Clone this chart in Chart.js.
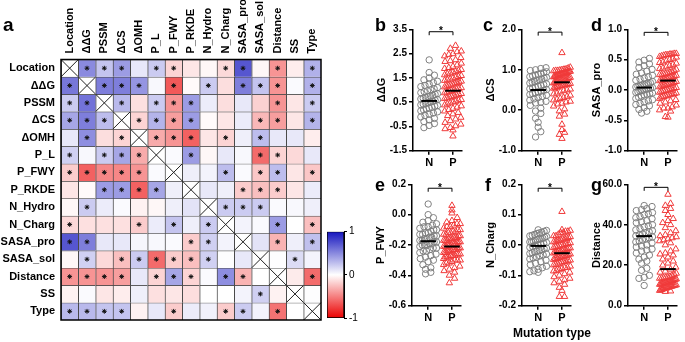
<!DOCTYPE html>
<html>
<head>
<meta charset="utf-8">
<script src="https://cdn.jsdelivr.net/npm/chart.js@4.4.1/dist/chart.umd.min.js"></script>
<style>
  html, body { margin: 0; padding: 0; background: #fff; }
  body { width: 685px; height: 342px; position: relative; overflow: hidden; font-family: "Liberation Sans", Arial, sans-serif; }
  canvas, .lbl { position: absolute; }
  .lbl { font-weight: bold; color: #000; line-height: 1; white-space: nowrap; }
</style>
</head>
<body>
<canvas id="heat" width="326" height="342" style="left:0;top:0"></canvas>
<canvas id="cbar" width="40" height="104" style="left:322px;top:222px"></canvas>
<canvas id="pb" width="96" height="171"></canvas>
<canvas id="pc" width="96" height="171"></canvas>
<canvas id="pd" width="96" height="171"></canvas>
<canvas id="pe" width="96" height="171"></canvas>
<canvas id="pf" width="96" height="171"></canvas>
<canvas id="pg" width="96" height="171"></canvas>

<div class="lbl" style="left:3px;top:15px;font-size:19px">a</div>
<div class="lbl" style="left:375px;top:16px;font-size:18px">b</div>
<div class="lbl" style="left:483px;top:16px;font-size:18px">c</div>
<div class="lbl" style="left:591px;top:16px;font-size:18px">d</div>
<div class="lbl" style="left:375px;top:176px;font-size:18px">e</div>
<div class="lbl" style="left:485px;top:176px;font-size:18px">f</div>
<div class="lbl" style="left:591px;top:176px;font-size:18px">g</div>
<div class="lbl" style="left:500px;top:327px;width:104px;text-align:center;font-size:12px">Mutation type</div>

<script>
// ---- panel a: correlation matrix ----
const features = ["Location", "ΔΔG", "PSSM", "ΔCS", "ΔOMH", "P_L", "P_FWY", "P_RKDE",
  "N_Hydro", "N_Charg", "SASA_pro", "SASA_sol", "Distance", "SS", "Type"];

const corr = [
  [1, 0.5, 0.25, 0.42, 0.1, 0.22, -0.17, -0.1, -0.03, -0.15, 0.72, -0.03, -0.42, -0.07, 0.33],
  [0.58, 1, 0.55, 0.55, 0.45, 0.03, -0.65, -0.02, 0.22, -0.13, 0.55, 0.25, -0.42, 0.02, 0.33],
  [0.22, 0.6, 1, 0.3, -0.12, 0.22, -0.42, 0.42, 0.08, -0.13, 0.1, -0.18, -0.42, -0.1, 0.22],
  [0.38, 0.55, 0.28, 1, -0.17, 0.32, -0.38, 0.42, -0.02, -0.1, 0.08, -0.28, -0.38, -0.1, 0.32],
  [0.1, 0.48, -0.13, -0.17, 1, -0.33, -0.42, -0.62, -0.1, -0.17, 0.07, 0.28, 0.1, 0.1, -0.07],
  [0.2, 0.03, 0.22, 0.38, -0.33, 1, 0.02, 0.42, -0.03, 0.1, 0.03, -0.58, -0.17, -0.15, 0.1],
  [-0.2, -0.62, -0.47, -0.47, -0.42, 0.02, 1, 0.07, 0.05, 0.28, 0.02, -0.22, 0.28, -0.1, -0.22],
  [-0.1, -0.02, 0.42, 0.42, -0.62, 0.38, 0.07, 1, 0.1, 0.07, -0.2, -0.25, -0.2, -0.1, 0.08],
  [-0.03, 0.22, 0.08, 0.02, -0.05, -0.03, 0.07, 0.12, 1, 0.22, 0.22, 0.22, 0.02, 0.03, 0.07],
  [-0.15, -0.12, -0.12, -0.12, -0.2, 0.08, 0.25, 0.07, 0.22, 1, 0.05, 0.02, 0.42, 0, -0.25],
  [0.72, 0.55, 0.1, 0.1, 0.04, 0.03, 0.02, -0.2, 0.2, 0.05, 1, 0.12, -0.3, 0.07, 0.27],
  [-0.03, 0.2, -0.15, -0.25, 0.22, -0.58, -0.2, -0.25, 0.2, 0.01, 0.1, 1, 0.01, 0.15, 0.05],
  [-0.42, -0.42, -0.42, -0.38, 0.1, -0.17, 0.38, -0.17, 0.02, 0.48, -0.3, 0, 1, -0.08, -0.58],
  [-0.05, 0.02, -0.1, -0.07, 0.07, -0.12, -0.1, -0.13, 0, 0, 0.05, 0.2, -0.05, 1, 0.01],
  [0.3, 0.3, 0.25, 0.25, -0.05, 0.1, -0.2, 0.08, 0.06, -0.2, 0.22, 0.05, -0.55, 0, 1],
];

// * = significant, x = diagonal
const signif = [
  "x***.**..**.*.*",
  "*x***.*.*.***.*",
  "**x*.***....*.*",
  "***x****...**.*",
  ".*.*x***.*.*...",
  "*.***x.*...**..",
  "*****.x..*.**.*",
  "..****.x..***..",
  ".*......x***...",
  "*...*.*.*x..*.*",
  "**.....**.x.*.*",
  ".*.******..x.*.",
  "****.***.**.x.*",
  "...........*.x.",
  "****..*..**.*.x",
];

const colorbarTicks = [-1, 0, 1];

// ---- panels b-g: N vs P mutations ----
const groups = ["N", "P"];
const panelTitles = ["ΔΔG", "ΔCS", "SASA_pro", "P_FWY", "N_Charg", "Distance"];
const yMin = [-1.5, -1, -1, -0.6, -0.2, 0];
const yMax = [3.5, 2, 1, 0.2, 0.2, 60];
const yStep = [1, 1, 0.5, 0.2, 0.1, 20];
const meanN = [0.55, 0.5, 0.04, -0.175, -0.003, 34.4];
const meanP = [0.97, 0.69, 0.155, -0.21, -0.027, 18.1];
const bracketY = [3.4, 1.93, 0.95, 0.174, 0.187, 58.5];

const ddgN = [2.24, 1.72, 1.61, 1.5, 1.42, 1.36, 1.3, 1.24, 1.19, 1.14,
  1.1, 1.05, 1.01, 0.97, 0.93, 0.89, 0.85, 0.82, 0.78, 0.75,
  0.72, 0.69, 0.66, 0.63, 0.6, 0.57, 0.54, 0.51, 0.48, 0.45,
  0.42, 0.39, 0.36, 0.33, 0.29, 0.26, 0.22, 0.18, 0.14, 0.1,
  0.05, 0.0, -0.05, -0.11, -0.17, -0.23, -0.3, -0.38, -0.46, -0.55];
const ddgP = [2.83, 2.71, 2.6, 2.57, 2.49, 2.4, 2.33, 2.24, 2.17, 2.1,
  2.03, 1.97, 1.92, 1.88, 1.84, 1.8, 1.76, 1.73, 1.69, 1.66,
  1.62, 1.59, 1.55, 1.52, 1.49, 1.45, 1.42, 1.39, 1.36, 1.33,
  1.3, 1.27, 1.24, 1.21, 1.18, 1.15, 1.12, 1.09, 1.06, 1.03,
  1.0, 0.97, 0.94, 0.91, 0.88, 0.85, 0.82, 0.79, 0.76, 0.73,
  0.7, 0.67, 0.64, 0.6, 0.57, 0.53, 0.5, 0.46, 0.42, 0.38,
  0.34, 0.29, 0.24, 0.19, 0.13, 0.07, 0.01, -0.06, -0.13, -0.2,
  -0.27, -0.34, -0.41, -0.48, -0.55, -0.6, -0.65, 2.46, 2.2, -0.9];

const dcsN = [1.05, 1.03, 1.0, 0.98, 0.95, 0.93, 0.91, 0.89, 0.87, 0.85,
  0.83, 0.81, 0.79, 0.77, 0.75, 0.73, 0.71, 0.69, 0.67, 0.65,
  0.63, 0.61, 0.59, 0.57, 0.55, 0.53, 0.51, 0.49, 0.47, 0.45,
  0.43, 0.41, 0.39, 0.37, 0.34, 0.31, 0.28, 0.25, 0.22, 0.2,
  0.18, 0.12, 0.05, -0.02, -0.08, -0.2, -0.3, -0.42, -0.53, -0.66];
const dcsP = [1.42, 1.06, 1.04, 1.02, 1.01, 1.0, 0.99, 0.98, 0.97, 0.96,
  0.95, 0.94, 0.93, 0.92, 0.91, 0.9, 0.89, 0.88, 0.87, 0.86,
  0.85, 0.84, 0.83, 0.82, 0.81, 0.8, 0.79, 0.78, 0.77, 0.76,
  0.75, 0.74, 0.73, 0.72, 0.71, 0.7, 0.69, 0.68, 0.67, 0.66,
  0.65, 0.64, 0.63, 0.62, 0.61, 0.6, 0.59, 0.58, 0.56, 0.54,
  0.52, 0.5, 0.48, 0.45, 0.42, 0.4, 0.37, 0.34, 0.31, 0.29,
  0.27, 0.25, 0.22, 0.2, 0.17, 0.15, 0.1, 0.03, -0.02, -0.1,
  -0.15, -0.35, -0.48, -0.55, -0.6, -0.7, 0.98, 0.96, 0.93, 0.9];

const sasaProN = [0.52, 0.49, 0.46, 0.43, 0.4, 0.37, 0.34, 0.31, 0.28, 0.26,
  0.24, 0.22, 0.2, 0.18, 0.16, 0.14, 0.12, 0.11, 0.1, 0.09,
  0.08, 0.07, 0.06, 0.05, 0.04, 0.03, 0.02, 0.01, 0.0, -0.01,
  -0.02, -0.03, -0.04, -0.05, -0.06, -0.07, -0.08, -0.1, -0.12, -0.14,
  -0.16, -0.18, -0.2, -0.22, -0.24, -0.26, -0.29, -0.32, -0.35, -0.38];
const sasaProP = [0.6, 0.6, 0.59, 0.59, 0.58, 0.58, 0.57, 0.56, 0.55, 0.54,
  0.52, 0.5, 0.48, 0.46, 0.44, 0.42, 0.4, 0.38, 0.36, 0.34,
  0.32, 0.3, 0.29, 0.28, 0.27, 0.26, 0.25, 0.24, 0.23, 0.22,
  0.21, 0.2, 0.19, 0.18, 0.17, 0.16, 0.15, 0.14, 0.13, 0.12,
  0.11, 0.1, 0.09, 0.08, 0.07, 0.06, 0.05, 0.04, 0.03, 0.02,
  0.01, 0.0, -0.01, -0.02, -0.03, -0.04, -0.05, -0.06, -0.07, -0.08,
  -0.09, -0.1, -0.11, -0.12, -0.14, -0.16, -0.18, -0.2, -0.22, -0.25,
  -0.28, -0.3, -0.33, -0.35, -0.44, -0.45, -0.3, 0.45, 0.35, 0.25];

const pfwyN = [0.07, 0.0, -0.02, -0.04, -0.05, -0.06, -0.07, -0.08, -0.09, -0.1,
  -0.11, -0.12, -0.13, -0.13, -0.14, -0.15, -0.15, -0.16, -0.17, -0.17,
  -0.18, -0.18, -0.19, -0.19, -0.2, -0.2, -0.21, -0.22, -0.22, -0.23,
  -0.24, -0.25, -0.26, -0.27, -0.28, -0.29, -0.3, -0.31, -0.33, -0.35,
  -0.36, -0.38, -0.39, -0.12, -0.16, -0.2, -0.24, -0.08, -0.1, -0.14];
const pfwyP = [0.06, 0.03, 0.01, -0.02, -0.04, -0.05, -0.06, -0.07, -0.08, -0.09,
  -0.1, -0.11, -0.12, -0.13, -0.13, -0.14, -0.15, -0.15, -0.16, -0.16,
  -0.17, -0.17, -0.18, -0.18, -0.19, -0.19, -0.2, -0.2, -0.21, -0.21,
  -0.22, -0.22, -0.23, -0.23, -0.24, -0.24, -0.25, -0.25, -0.26, -0.26,
  -0.27, -0.27, -0.28, -0.28, -0.29, -0.3, -0.3, -0.31, -0.32, -0.33,
  -0.34, -0.35, -0.36, -0.37, -0.38, -0.4, -0.42, -0.45, -0.12, -0.14,
  -0.16, -0.18, -0.2, -0.22, -0.24, -0.26, -0.28, -0.3, -0.1, -0.08,
  -0.06, -0.19, -0.21, -0.23, -0.17, -0.25, -0.27, -0.15, -0.11, -0.32];

const nChargN = [0.05, 0.048, 0.045, 0.042, 0.04, 0.038, 0.035, 0.032, 0.03, 0.028,
  0.025, 0.022, 0.02, 0.018, 0.015, 0.012, 0.01, 0.008, 0.005, 0.003,
  0.0, -0.002, -0.005, -0.008, -0.01, -0.012, -0.015, -0.018, -0.02, -0.022,
  -0.025, -0.028, -0.03, -0.033, -0.036, -0.04, -0.043, -0.046, -0.05, -0.055,
  -0.06, -0.065, -0.07, -0.075, -0.08, -0.085, -0.088, -0.09, 0.01, 0.02];
const nChargP = [0.11, 0.05, 0.048, 0.045, 0.04, 0.035, 0.03, 0.027, 0.024, 0.02,
  0.017, 0.014, 0.01, 0.007, 0.004, 0.0, -0.003, -0.006, -0.009, -0.012,
  -0.015, -0.018, -0.021, -0.024, -0.027, -0.03, -0.033, -0.036, -0.039, -0.042,
  -0.045, -0.048, -0.051, -0.054, -0.057, -0.06, -0.063, -0.066, -0.07, -0.074,
  -0.078, -0.082, -0.086, -0.09, -0.095, -0.1, -0.105, -0.11, -0.115, -0.12,
  -0.125, -0.13, -0.14, -0.15, -0.17, -0.17, 0.02, 0.01, 0.0, -0.01,
  -0.02, -0.03, -0.04, -0.05, 0.03, 0.015, -0.005, -0.025, -0.035, 0.04,
  -0.015, -0.045, 0.005, -0.055, 0.025, -0.065, -0.075, -0.085, 0.045, -0.01];

const distN = [49.5, 49, 48, 47.5, 47, 46, 45.5, 45, 44, 43.5,
  43, 42, 41.5, 41, 40, 39.5, 39, 38, 37.5, 37,
  36.5, 36, 35.5, 35, 34.5, 34, 33.5, 33, 32.5, 32,
  31.5, 31, 30, 29.5, 29, 28, 27.5, 27, 26, 25,
  24, 23, 22, 21, 18.5, 17.5, 15, 14, 13.5, 10];
const distP = [55, 50.5, 49.5, 48, 47, 45, 43, 42, 41, 40,
  38.5, 37, 35, 34.5, 34, 33.5, 33, 32.5, 32, 31,
  30, 28, 27, 26, 25, 24, 23, 22, 21, 20,
  19, 18, 17, 16.5, 16, 15.5, 15, 14.5, 14, 13.8,
  13.5, 13.2, 13, 12.8, 12.5, 12.2, 12, 11.8, 11.5, 11.2,
  11, 10.8, 10.5, 10.3, 10, 9.8, 9.5, 9.3, 9, 8.8,
  8.5, 8.3, 8, 7.8, 7.5, 7.2, 7, 12.6, 11.6, 10.6,
  9.6, 8.6, 13.6, 14.2, 10.1, 9.1, 11.4, 12.4, 25.5, 36];

const seriesN = [ddgN, dcsN, sasaProN, pfwyN, nChargN, distN];
const seriesP = [ddgP, dcsP, sasaProP, pfwyP, nChargP, distP];

// layout of the six small panels (plot-area edges in page pixels)
const dotLayout = [
  { id: "pb", left: 413, top: 29.3, bottom: 150.7, canvasTop: 0 },
  { id: "pc", left: 522, top: 29.3, bottom: 150.7, canvasTop: 0 },
  { id: "pd", left: 628, top: 29.3, bottom: 150.7, canvasTop: 0 },
  { id: "pe", left: 412, top: 184.3, bottom: 305.7, canvasTop: 170 },
  { id: "pf", left: 522, top: 184.3, bottom: 305.7, canvasTop: 170 },
  { id: "pg", left: 628, top: 184.3, bottom: 305.7, canvasTop: 170 },
];

Chart.defaults.font.family = '"Liberation Sans", Arial, sans-serif';
Chart.defaults.color = "#000";
Chart.defaults.animation = false;
Chart.defaults.events = [];
Chart.defaults.plugins.legend.display = false;
Chart.defaults.plugins.tooltip.enabled = false;

function heatColor(v) {
  const t = Math.min(1, Math.abs(v));
  const end = v >= 0 ? [20, 20, 190] : [235, 0, 0];
  const c = end.map((e) => Math.round(255 + (e - 255) * t));
  return "rgb(" + c.join(",") + ")";
}

const starPoints = [];
const diagPoints = [];
signif.forEach((row, i) => {
  [...row].forEach((ch, j) => {
    if (ch === "*") starPoints.push({ x: features[j], y: i + 0.5 });
    if (ch === "x") diagPoints.push({ x: features[j], y: i + 0.5 });
  });
});

const frame = {
  id: "frame",
  afterDatasetsDraw(chart) {
    const { ctx, chartArea: a } = chart;
    ctx.save();
    ctx.strokeStyle = "#000";
    ctx.lineWidth = 1.5;
    ctx.strokeRect(a.left, a.top, a.right - a.left, a.bottom - a.top);
    ctx.restore();
  },
};

const heatSets = corr.map((row, i) => ({
  type: "bar",
  data: row.map(() => 1),
  backgroundColor: row.map((v, j) => (i === j ? "#ffffff" : heatColor(v))),
  borderColor: "#4a4a4a",
  borderWidth: { top: 1, left: 1, right: 0, bottom: 0 },
  borderSkipped: false,
  categoryPercentage: 1,
  barPercentage: 1,
  xAxisID: "x",
  yAxisID: "y",
}));

new Chart(document.querySelector("#heat"), {
  type: "bar",
  data: {
    labels: features,
    datasets: [
      ...heatSets,
      {
        type: "scatter",
        order: -1,
        data: starPoints,
        pointStyle: "star",
        pointRadius: 2.4,
        pointBorderColor: "#111",
        pointBorderWidth: 1,
        xAxisID: "x",
        yAxisID: "y2",
      },
      {
        type: "scatter",
        order: -1,
        data: diagPoints,
        pointStyle: "crossRot",
        pointRadius: 12.2,
        pointBorderColor: "#222",
        pointBorderWidth: 1,
        xAxisID: "x",
        yAxisID: "y2",
      },
    ],
  },
  options: {
    responsive: false,
    layout: { autoPadding: false, padding: { left: 0, top: 0, right: 5, bottom: 22 } },
    scales: {
      x: {
        type: "category",
        position: "top",
        stacked: true,
        offset: true,
        grid: { display: false, drawTicks: false },
        border: { display: false },
        ticks: { autoSkip: false, maxRotation: 90, minRotation: 90, padding: 6, labelOffset: 13.2, font: { size: 11, weight: "bold" } },
        afterFit(s) { s.height = 59.5; },
      },
      y: { type: "linear", display: false, stacked: true, reverse: true, min: 0, max: 15 },
      y2: { type: "linear", axis: "y", display: false, reverse: true, min: 0, max: 15 },
      yl: {
        type: "category",
        axis: "y",
        position: "left",
        labels: features,
        offset: true,
        grid: { display: false, drawTicks: false },
        border: { display: false },
        ticks: { padding: 6, font: { size: 11, weight: "bold" } },
        afterFit(s) { s.width = 61; },
      },
    },
  },
  plugins: [frame],
});

// colour bar
new Chart(document.querySelector("#cbar"), {
  type: "bar",
  data: {
    labels: [""],
    datasets: [{
      data: [[colorbarTicks[0], colorbarTicks[colorbarTicks.length - 1]]],
      backgroundColor(c) {
        const chart = c.chart;
        if (!chart.chartArea) return "#fff";
        const y = chart.scales.y;
        const g = chart.ctx.createLinearGradient(0, y.getPixelForValue(1), 0, y.getPixelForValue(-1));
        g.addColorStop(0, heatColor(1));
        g.addColorStop(0.5, "#ffffff");
        g.addColorStop(1, heatColor(-1));
        return g;
      },
      borderColor: "#000",
      borderWidth: 1,
      borderSkipped: false,
      categoryPercentage: 1,
      barPercentage: 1,
    }],
  },
  options: {
    responsive: false,
    layout: { autoPadding: false, padding: { left: 5, top: 9.7, bottom: 7, right: 0 } },
    scales: {
      x: { display: false },
      y: {
        position: "right",
        min: -1,
        max: 1,
        afterBuildTicks(s) { s.ticks = colorbarTicks.map((v) => ({ value: v })); },
        ticks: { font: { size: 10 }, padding: 2 },
        grid: { drawOnChartArea: false, tickLength: 3, color: "#000" },
        border: { color: "#000" },
        afterFit(s) { s.width = 18; },
      },
    },
  },
});

// beeswarm-style horizontal spreading of equal-height points
function swarm(vals, group, bin) {
  const sorted = vals.slice().sort((a, b) => a - b);
  const bins = new Map();
  sorted.forEach((v) => {
    const k = Math.round(v / bin);
    if (!bins.has(k)) bins.set(k, []);
    bins.get(k).push(v);
  });
  const pts = [];
  bins.forEach((list) => {
    const n = list.length;
    const step = n > 1 ? Math.min(0.22, 0.7 / (n - 1)) : 0;
    list.forEach((v, k) => pts.push({ x: group + (k - (n - 1) / 2) * step, y: v }));
  });
  return pts;
}

const marks = {
  id: "marks",
  afterDatasetsDraw(chart, args, opts) {
    const { ctx, scales: { x, y } } = chart;
    ctx.save();
    ctx.strokeStyle = "#000";
    ctx.fillStyle = "#000";
    ctx.lineWidth = 2;
    opts.mean.forEach((m, g) => {
      const py = y.getPixelForValue(m);
      ctx.beginPath();
      ctx.moveTo(x.getPixelForValue(g - 0.33), py);
      ctx.lineTo(x.getPixelForValue(g + 0.33), py);
      ctx.stroke();
    });
    const by = y.getPixelForValue(opts.bracket);
    const x0 = x.getPixelForValue(0);
    const x1 = x.getPixelForValue(1);
    ctx.lineWidth = 1;
    ctx.beginPath();
    ctx.moveTo(x0, by + 3.5);
    ctx.lineTo(x0, by);
    ctx.lineTo(x1, by);
    ctx.lineTo(x1, by + 3.5);
    ctx.stroke();
    ctx.font = 'bold 10px "Liberation Sans", Arial, sans-serif';
    ctx.textAlign = "center";
    ctx.fillText("*", (x0 + x1) / 2, by + 2.5);
    ctx.restore();
  },
};

dotLayout.forEach((s, k) => {
  const canvas = document.getElementById(s.id);
  canvas.style.left = (s.left - 43) + "px";
  canvas.style.top = s.canvasTop + "px";
  const bin = (yMax[k] - yMin[k]) * 6 / 121;
  new Chart(canvas, {
    type: "scatter",
    data: {
      datasets: [
        {
          data: swarm(seriesN[k], 0, bin),
          pointStyle: "circle",
          pointRadius: 3.2,
          pointBorderColor: "#808080",
          pointBackgroundColor: "rgba(0,0,0,0)",
          pointBorderWidth: 1,
          clip: false,
        },
        {
          data: swarm(seriesP[k], 1, bin),
          pointStyle: "triangle",
          pointRadius: 3.7,
          pointBorderColor: "#f03b3b",
          pointBackgroundColor: "rgba(0,0,0,0)",
          pointBorderWidth: 1,
          clip: false,
        },
      ],
    },
    options: {
      responsive: false,
      layout: { autoPadding: false, padding: { top: s.top - s.canvasTop, right: 4, left: 0, bottom: 0 } },
      scales: {
        x: {
          type: "linear",
          min: -0.68,
          max: 1.38,
          afterBuildTicks(a) { a.ticks = groups.map((g, i) => ({ value: i })); },
          ticks: { callback: (v, i) => groups[i], font: { size: 11, weight: "bold" }, padding: 2 },
          grid: { drawOnChartArea: false, color: "#000", lineWidth: 1.5, tickLength: 4 },
          border: { color: "#000", width: 1.5 },
          afterFit(a) { a.height = 171 - (s.bottom - s.canvasTop); },
        },
        y: {
          min: yMin[k],
          max: yMax[k],
          ticks: { stepSize: yStep[k], callback: (v) => v.toFixed(1), font: { size: 10, weight: "bold" }, padding: 2 },
          grid: { drawOnChartArea: false, color: "#000", lineWidth: 1.5, tickLength: 4 },
          border: { color: "#000", width: 1.5 },
          title: { display: true, text: panelTitles[k], font: { size: 11, weight: "bold" }, padding: { top: 5, bottom: 0 } },
          afterFit(a) { a.width = 43; },
        },
      },
      plugins: { marks: { mean: [meanN[k], meanP[k]], bracket: bracketY[k] } },
    },
    plugins: [marks],
  });
});
</script>
</body>
</html>
